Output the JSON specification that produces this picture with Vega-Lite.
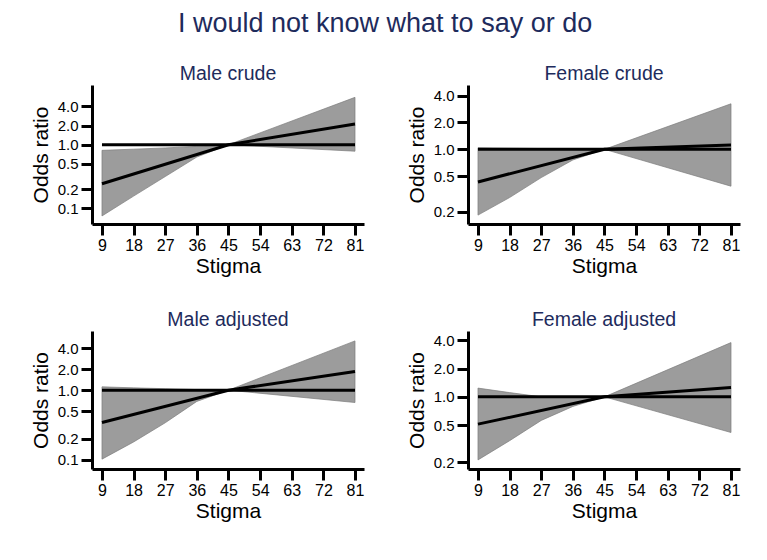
{
  "$schema": "https://vega.github.io/schema/vega-lite/v6.json",
  "background": "white",
  "padding": {"left": 30, "top": 9, "right": 12, "bottom": 10},
  "title": {"text": "I would not know what to say or do", "fontSize": 27, "font": "Liberation Sans", "fontWeight": "normal", "color": "#1E2B5C", "anchor": "middle", "frame": "bounds", "offset": 26},
  "datasets": {
    "band": [
      {"panel": "Male crude", "stigma": 9, "lo": 0.0755, "hi": 0.815},
      {"panel": "Male crude", "stigma": 18, "lo": 0.155, "hi": 0.85},
      {"panel": "Male crude", "stigma": 27, "lo": 0.315, "hi": 0.89},
      {"panel": "Male crude", "stigma": 36, "lo": 0.64, "hi": 0.94},
      {"panel": "Male crude", "stigma": 45, "lo": 1, "hi": 1},
      {"panel": "Male crude", "stigma": 81, "lo": 0.79, "hi": 5.57},
      {"panel": "Female crude", "stigma": 9, "lo": 0.183, "hi": 1.04},
      {"panel": "Female crude", "stigma": 18, "lo": 0.288, "hi": 1.03},
      {"panel": "Female crude", "stigma": 27, "lo": 0.482, "hi": 1.02},
      {"panel": "Female crude", "stigma": 36, "lo": 0.76, "hi": 1.01},
      {"panel": "Female crude", "stigma": 45, "lo": 1, "hi": 1},
      {"panel": "Female crude", "stigma": 81, "lo": 0.386, "hi": 3.24},
      {"panel": "Male adjusted", "stigma": 9, "lo": 0.102, "hi": 1.117},
      {"panel": "Male adjusted", "stigma": 18, "lo": 0.18, "hi": 1.08},
      {"panel": "Male adjusted", "stigma": 27, "lo": 0.34, "hi": 1.05},
      {"panel": "Male adjusted", "stigma": 36, "lo": 0.69, "hi": 1.02},
      {"panel": "Male adjusted", "stigma": 45, "lo": 1, "hi": 1},
      {"panel": "Male adjusted", "stigma": 81, "lo": 0.665, "hi": 5.11},
      {"panel": "Female adjusted", "stigma": 9, "lo": 0.212, "hi": 1.24},
      {"panel": "Female adjusted", "stigma": 18, "lo": 0.34, "hi": 1.11},
      {"panel": "Female adjusted", "stigma": 27, "lo": 0.56, "hi": 1.0},
      {"panel": "Female adjusted", "stigma": 36, "lo": 0.79, "hi": 0.99},
      {"panel": "Female adjusted", "stigma": 45, "lo": 1, "hi": 1},
      {"panel": "Female adjusted", "stigma": 81, "lo": 0.416, "hi": 3.8}
    ],
    "est": [
      {"panel": "Male crude", "stigma": 9, "or": 0.243},
      {"panel": "Male crude", "stigma": 45, "or": 1},
      {"panel": "Male crude", "stigma": 81, "or": 2.11},
      {"panel": "Female crude", "stigma": 9, "or": 0.431},
      {"panel": "Female crude", "stigma": 45, "or": 1},
      {"panel": "Female crude", "stigma": 81, "or": 1.12},
      {"panel": "Male adjusted", "stigma": 9, "or": 0.343},
      {"panel": "Male adjusted", "stigma": 45, "or": 1},
      {"panel": "Male adjusted", "stigma": 81, "or": 1.85},
      {"panel": "Female adjusted", "stigma": 9, "or": 0.511},
      {"panel": "Female adjusted", "stigma": 45, "or": 1},
      {"panel": "Female adjusted", "stigma": 81, "or": 1.26}
    ],
    "ref": [
      {"stigma": 9, "or": 1},
      {"stigma": 81, "or": 1}
    ]
  },
  "spacing": 33,
  "vconcat": [
    {
      "spacing": 42,
      "hconcat": [
        {
          "width": 272, "height": 139,
          "title": "Male crude",
          "layer": [
            {
              "data": {"name": "band"},
              "transform": [{"filter": "datum.panel === 'Male crude'"}],
              "mark": {"type": "area", "color": "#9c9c9c", "stroke": "#7c7c7c", "strokeWidth": 0.7},
              "encoding": {
                "x": {"field": "stigma", "type": "quantitative", "scale": {"domain": [6.16, 83.56], "nice": false, "zero": false}, "axis": {"values": [9, 18, 27, 36, 45, 54, 63, 72, 81], "tickCount": 20, "title": "Stigma"}},
                "y": {"field": "lo", "type": "quantitative", "scale": {"type": "log", "domain": [0.0564, 8.71], "nice": false}, "axis": {"values": [0.1, 0.2, 0.5, 1, 2, 4], "tickCount": 20, "format": ".1f", "title": "Odds ratio"}},
                "y2": {"field": "hi"}
              }
            },
            {
              "data": {"name": "ref"},
              "mark": {"type": "line", "color": "black", "strokeWidth": 3},
              "encoding": {"x": {"field": "stigma", "type": "quantitative"}, "y": {"field": "or", "type": "quantitative"}}
            },
            {
              "data": {"name": "est"},
              "transform": [{"filter": "datum.panel === 'Male crude'"}],
              "mark": {"type": "line", "color": "black", "strokeWidth": 3},
              "encoding": {"x": {"field": "stigma", "type": "quantitative"}, "y": {"field": "or", "type": "quantitative"}}
            }
          ]
        },
        {
          "width": 272, "height": 139,
          "title": "Female crude",
          "layer": [
            {
              "data": {"name": "band"},
              "transform": [{"filter": "datum.panel === 'Female crude'"}],
              "mark": {"type": "area", "color": "#9c9c9c", "stroke": "#7c7c7c", "strokeWidth": 0.7},
              "encoding": {
                "x": {"field": "stigma", "type": "quantitative", "scale": {"domain": [6.16, 83.56], "nice": false, "zero": false}, "axis": {"values": [9, 18, 27, 36, 45, 54, 63, 72, 81], "tickCount": 20, "title": "Stigma"}},
                "y": {"field": "lo", "type": "quantitative", "scale": {"type": "log", "domain": [0.1455, 5.26], "nice": false}, "axis": {"values": [0.2, 0.5, 1, 2, 4], "tickCount": 20, "format": ".1f", "title": "Odds ratio"}},
                "y2": {"field": "hi"}
              }
            },
            {
              "data": {"name": "ref"},
              "mark": {"type": "line", "color": "black", "strokeWidth": 3},
              "encoding": {"x": {"field": "stigma", "type": "quantitative"}, "y": {"field": "or", "type": "quantitative"}}
            },
            {
              "data": {"name": "est"},
              "transform": [{"filter": "datum.panel === 'Female crude'"}],
              "mark": {"type": "line", "color": "black", "strokeWidth": 3},
              "encoding": {"x": {"field": "stigma", "type": "quantitative"}, "y": {"field": "or", "type": "quantitative"}}
            }
          ]
        }
      ]
    },
    {
      "spacing": 42,
      "hconcat": [
        {
          "width": 272, "height": 138,
          "title": "Male adjusted",
          "layer": [
            {
              "data": {"name": "band"},
              "transform": [{"filter": "datum.panel === 'Male adjusted'"}],
              "mark": {"type": "area", "color": "#9c9c9c", "stroke": "#7c7c7c", "strokeWidth": 0.7},
              "encoding": {
                "x": {"field": "stigma", "type": "quantitative", "scale": {"domain": [6.16, 83.56], "nice": false, "zero": false}, "axis": {"values": [9, 18, 27, 36, 45, 54, 63, 72, 81], "tickCount": 20, "title": "Stigma"}},
                "y": {"field": "lo", "type": "quantitative", "scale": {"type": "log", "domain": [0.0736, 7.09], "nice": false}, "axis": {"values": [0.1, 0.2, 0.5, 1, 2, 4], "tickCount": 20, "format": ".1f", "title": "Odds ratio"}},
                "y2": {"field": "hi"}
              }
            },
            {
              "data": {"name": "ref"},
              "mark": {"type": "line", "color": "black", "strokeWidth": 3},
              "encoding": {"x": {"field": "stigma", "type": "quantitative"}, "y": {"field": "or", "type": "quantitative"}}
            },
            {
              "data": {"name": "est"},
              "transform": [{"filter": "datum.panel === 'Male adjusted'"}],
              "mark": {"type": "line", "color": "black", "strokeWidth": 3},
              "encoding": {"x": {"field": "stigma", "type": "quantitative"}, "y": {"field": "or", "type": "quantitative"}}
            }
          ]
        },
        {
          "width": 272, "height": 138,
          "title": "Female adjusted",
          "layer": [
            {
              "data": {"name": "band"},
              "transform": [{"filter": "datum.panel === 'Female adjusted'"}],
              "mark": {"type": "area", "color": "#9c9c9c", "stroke": "#7c7c7c", "strokeWidth": 0.7},
              "encoding": {
                "x": {"field": "stigma", "type": "quantitative", "scale": {"domain": [6.16, 83.56], "nice": false, "zero": false}, "axis": {"values": [9, 18, 27, 36, 45, 54, 63, 72, 81], "tickCount": 20, "title": "Stigma"}},
                "y": {"field": "lo", "type": "quantitative", "scale": {"type": "log", "domain": [0.1696, 5.05], "nice": false}, "axis": {"values": [0.2, 0.5, 1, 2, 4], "tickCount": 20, "format": ".1f", "title": "Odds ratio"}},
                "y2": {"field": "hi"}
              }
            },
            {
              "data": {"name": "ref"},
              "mark": {"type": "line", "color": "black", "strokeWidth": 3},
              "encoding": {"x": {"field": "stigma", "type": "quantitative"}, "y": {"field": "or", "type": "quantitative"}}
            },
            {
              "data": {"name": "est"},
              "transform": [{"filter": "datum.panel === 'Female adjusted'"}],
              "mark": {"type": "line", "color": "black", "strokeWidth": 3},
              "encoding": {"x": {"field": "stigma", "type": "quantitative"}, "y": {"field": "or", "type": "quantitative"}}
            }
          ]
        }
      ]
    }
  ],
  "config": {
    "font": "Liberation Sans",
    "view": {"stroke": null},
    "title": {"fontSize": 19.5, "fontWeight": "normal", "color": "#1E2B5C", "font": "Liberation Sans", "offset": 1},
    "axis": {
      "grid": false,
      "domainColor": "black", "domainWidth": 3,
      "tickColor": "black", "tickWidth": 3, "tickSize": 11,
      "labelColor": "black", "labelFontSize": 15, "labelPadding": 3, "labelFont": "Liberation Sans", "labelOverlap": false,
      "titleColor": "black", "titleFontSize": 21, "titleFontWeight": "normal", "titleFont": "Liberation Sans", "titlePadding": 4
    },
    "axisX": {"labelFontSize": 16, "labelPadding": 2, "titlePadding": 2},
    "axisY": {"labelFontSize": 15, "titlePadding": 6}
  }
}
